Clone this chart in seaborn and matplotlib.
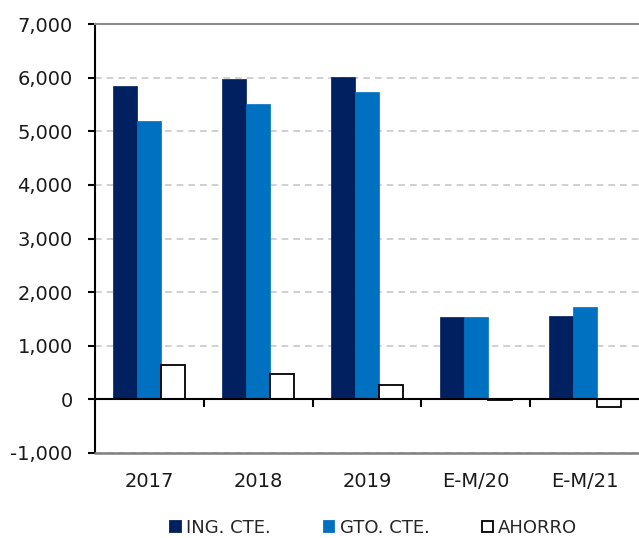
import pandas as pd
import numpy as np
import matplotlib.pyplot as plt
import matplotlib.ticker as mticker
import seaborn as sns

# data
periods = ["2017", "2018", "2019", "E-M/20", "E-M/21"]
ing_cte = [5850, 5970, 6010, 1530, 1560]
gto_cte = [5200, 5500, 5740, 1530, 1720]
ahorro = [650, 480, 260, -20, -150]
series = ["ING. CTE.", "GTO. CTE.", "AHORRO"]
colors = ["#002060", "#0070C0", "#FFFFFF"]

df = pd.DataFrame({"periodo": periods * 3,
                   "serie": np.repeat(series, len(periods)),
                   "valor": ing_cte + gto_cte + ahorro})

sns.set_theme(style="white")
plt.rcParams["font.family"] = ["DejaVu Sans"]

fig, ax = plt.subplots(figsize=(6.39, 5.38), dpi=100)
fig.subplots_adjust(left=95/639, right=1.0, top=1-24/538, bottom=1-453/538)

sns.barplot(data=df, x="periodo", y="valor", hue="serie", order=periods,
            hue_order=series, palette=colors, width=0.66, saturation=1,
            edgecolor="none", linewidth=0, ax=ax)

# the savings bars are hollow with black outline
for bar in ax.containers[2]:
    bar.set_edgecolor("black")
    bar.set_linewidth(1.3)
for c in ax.containers[:2]:
    for bar in c:
        bar.set_edgecolor(bar.get_facecolor())
        bar.set_linewidth(0.5)

ax.set_ylim(-1000, 7000)
ax.set_xlim(-0.5, 4.5)
ax.set_xlabel("")
ax.set_ylabel("")
ax.yaxis.set_major_locator(mticker.MultipleLocator(1000))
ax.yaxis.set_major_formatter(mticker.FuncFormatter(lambda v, p: f"{v:,.0f}"))

# grid and frame
ax.set_axisbelow(True)
ax.yaxis.grid(True, color="#C8C8C8", linestyle=(0, (4, 3)), linewidth=1.2)
ax.spines["top"].set_color("#8C8C8C")
ax.spines["top"].set_linewidth(1.5)
ax.spines["right"].set_visible(False)
ax.spines["left"].set_color("black")
ax.spines["left"].set_linewidth(1.5)
ax.spines["bottom"].set_position(("data", 0))
ax.spines["bottom"].set_color("black")
ax.spines["bottom"].set_linewidth(1.5)
ax.spines["bottom"].set_zorder(4)

ax.set_xticks(np.arange(len(periods)))
ax.set_xticklabels(periods)
ax.set_xticks(np.arange(len(periods) - 1) + 0.5, minor=True)
ax.tick_params(axis="x", which="major", bottom=True, length=0, pad=52,
               labelsize=14, colors="#1a1a1a")
ax.tick_params(axis="x", which="minor", bottom=True, length=6, width=1.5,
               direction="out", color="black")
ax.tick_params(axis="y", which="major", left=True, length=5, width=1.5,
               direction="out", pad=11, labelsize=14, color="black",
               labelcolor="#1a1a1a")

# lower border of the plot area
ax.axhline(-1000, color="#808080", linewidth=1.8, zorder=5, clip_on=False)

handles, labels = ax.get_legend_handles_labels()
ax.get_legend().remove()
for h in handles:
    h.set_edgecolor("black" if h.get_facecolor()[0] == 1 else h.get_facecolor())
    h.set_linewidth(1.3)
fig.legend(handles, labels, loc="lower center", bbox_to_anchor=(0.585, -0.028), ncol=3,
           frameon=False, fontsize=13, handlelength=0.6, handleheight=0.6,
           handletextpad=0.3, columnspacing=2.9)

fig.savefig("out.png", dpi=100)
